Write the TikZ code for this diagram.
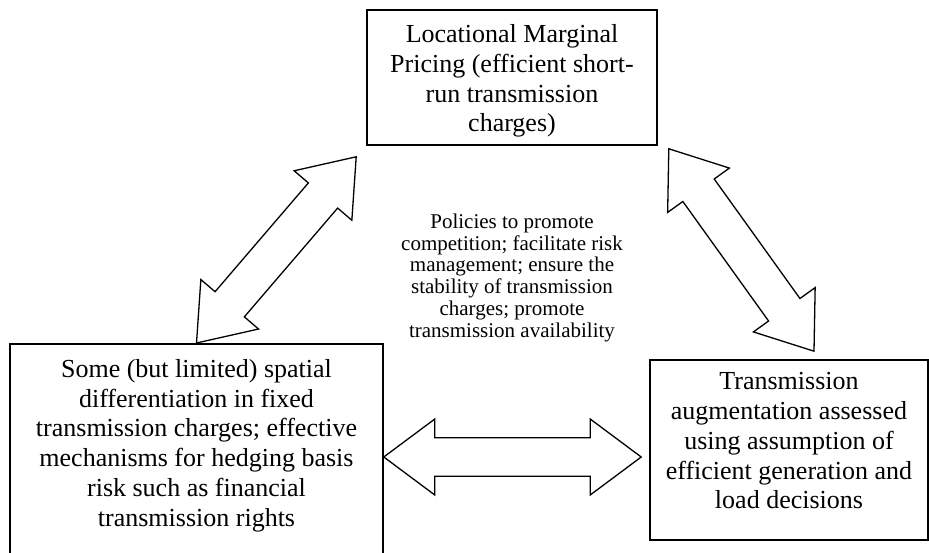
\documentclass[tikz,border=0pt]{standalone}
\usepackage{fontspec}
\setmainfont{Liberation Serif}
\usetikzlibrary{calc,positioning}

\tikzset{
  box/.style      ={draw, line width=1.6pt, inner sep=0pt},
  box text/.style ={align=center, inner sep=0pt, font=\fontsize{26pt}{29.8pt}\selectfont},
  policy/.style   ={align=center, inner sep=0pt, font=\fontsize{21pt}{21.7pt}\selectfont},
  two way/.style  ={draw, line width=1.3pt, line join=miter, fill=white},
}

\begin{document}
\begin{tikzpicture}[x=1pt, y=-1pt]
%%%%%%%%%%%%%%%%%%%%%%%%%%%%%%%%%%%%%%%%%%%%%%%%%%%%%%%%%%%%%%%%%%%%%%%%%%%%%%%%
%
%   SETTINGS
%
%%%%%%%%%%%%%%%%%%%%%%%%%%%%%%%%%%%%%%%%%%%%%%%%%%%%%%%%%%%%%%%%%%%%%%%%%%%%%%%%
\newcommand*\headLen{51pt}   % length of each arrow head
\newcommand*\headWid{38pt}   % half width of the head
\newcommand*\shaftWid{19.3pt}% half width of the shaft

% block arrow with a head at both ends, from #1 to #2
\newcommand*\twoWay[2]{%
  \draw[two way] (#1)
    -- ($(#1)!\headLen!(#2)!\headWid!90:(#2)$)
    -- ($(#1)!\headLen!(#2)!\shaftWid!90:(#2)$)
    -- ($(#2)!\headLen!(#1)!\shaftWid!-90:(#1)$)
    -- ($(#2)!\headLen!(#1)!\headWid!-90:(#1)$)
    -- (#2)
    -- ($(#2)!\headLen!(#1)!\headWid!90:(#1)$)
    -- ($(#2)!\headLen!(#1)!\shaftWid!90:(#1)$)
    -- ($(#1)!\headLen!(#2)!\shaftWid!-90:(#2)$)
    -- ($(#1)!\headLen!(#2)!\headWid!-90:(#2)$)
    -- cycle;}

\clip (0,0) rectangle (929,553);

%%%%%%%%%%%%%%%%%%%%%%%%%%%%%%%%%%%%%%%%%%%%%%%%%%%%%%%%%%%%%%%%%%%%%%%%%%%%%%%%
%
%   BOXES
%
%%%%%%%%%%%%%%%%%%%%%%%%%%%%%%%%%%%%%%%%%%%%%%%%%%%%%%%%%%%%%%%%%%%%%%%%%%%%%%%%
\node[box, minimum width=290, minimum height=135] (lmp) at (512,77.5) {};
\node[box text, below=15pt of lmp.north] (lmp text)
  {Locational Marginal\\Pricing (efficient short-\\run transmission\\charges)};

% runs off the bottom of the page
\node[box, minimum width=373, minimum height=260, anchor=north] (spatial) at (196.5,343) {};
\node[box text, below=16pt of spatial.north] (spatial text)
  {Some (but limited) spatial\\differentiation in fixed\\transmission charges; effective\\%
   mechanisms for hedging basis\\risk such as financial\\transmission rights};

\node[box, minimum width=278, minimum height=180] (augment) at (789,450) {};
\node[box text, below=13pt of augment.north] (augment text)
  {Transmission\\augmentation assessed\\using assumption of\\efficient generation and\\load decisions};

\node[policy, below=68pt of lmp.south] (policies)
  {Policies to promote\\competition; facilitate risk\\management; ensure the\\%
   stability of transmission\\charges; promote\\transmission availability};

%%%%%%%%%%%%%%%%%%%%%%%%%%%%%%%%%%%%%%%%%%%%%%%%%%%%%%%%%%%%%%%%%%%%%%%%%%%%%%%%
%
%   ARROWS
%
%%%%%%%%%%%%%%%%%%%%%%%%%%%%%%%%%%%%%%%%%%%%%%%%%%%%%%%%%%%%%%%%%%%%%%%%%%%%%%%%
\coordinate (lmp left)     at ($(lmp.south west)+(-10,11)$);
\coordinate (lmp right)    at ($(lmp.south east)+(11,3)$);
\coordinate (augment top)  at ($(augment.north)+(25,-8)$);
\coordinate (augment left) at ($(augment.west)+(-8,7)$);
\coordinate (spatial right) at (spatial.east |- augment left);

\twoWay{spatial.north}{lmp left}
\twoWay{lmp right}{augment top}
\twoWay{spatial right}{augment left}

\end{tikzpicture}
\end{document}
